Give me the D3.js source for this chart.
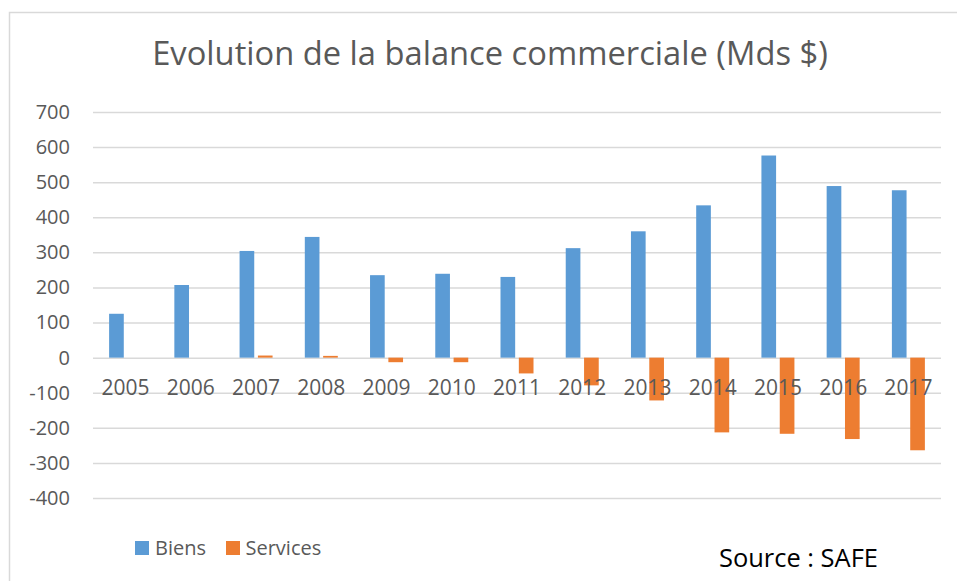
<!DOCTYPE html>
<html>
<head>
<meta charset="utf-8">
<script src="https://cdn.jsdelivr.net/npm/d3@7"></script>
<style>
  body { margin: 0; background: #fff; }
  text { font-family: "Open Sans", "Noto Sans", sans-serif; }
</style>
</head>
<body>
<script>
// Data
const years = ["2005", "2006", "2007", "2008", "2009", "2010", "2011", "2012", "2013", "2014", "2015", "2016", "2017"];
const biens = [125, 207, 304, 344, 235, 239, 230, 312, 360, 434, 576, 489, 477];
const services = [0, 0, 6, 5, -13, -13, -45, -79, -122, -213, -217, -232, -264];
const seriesNames = ["Biens", "Services"];
const yTicks = [-400, -300, -200, -100, 0, 100, 200, 300, 400, 500, 600, 700];

const width = 957;
const height = 581;
const plot = { left: 93, right: 941, top: 112, bottom: 498 };
const colors = { Biens: "#5b9bd5", Services: "#ed7d31" };
const textColor = "#595959";
const gridColor = "#d9d9d9";

const svg = d3.select("body")
  .append("svg")
  .attr("width", width)
  .attr("height", height);

// Chart frame (runs off the right and bottom edges)
svg.append("rect")
  .attr("x", 9.5)
  .attr("y", 12.5)
  .attr("width", 980)
  .attr("height", 600)
  .attr("fill", "#fff")
  .attr("stroke", gridColor)
  .attr("stroke-width", 1.5);

// shrink/grow font so text fits a measured width
function fitWidth(sel, target) {
  const w = sel.node().getComputedTextLength();
  const fs = parseFloat(sel.attr("font-size"));
  sel.attr("font-size", fs * target / w);
}

// Title
const title = svg.append("text")
  .attr("x", 490)
  .attr("y", 65)
  .attr("text-anchor", "middle")
  .attr("font-size", 30)
  .attr("fill", textColor)
  .text("Evolution de la balance commerciale (Mds $)");
fitWidth(title, 676);

// Scales
const x = d3.scaleBand()
  .domain(years)
  .range([plot.left, plot.right])
  .padding(0);

const x1 = d3.scaleBand()
  .domain(seriesNames)
  .range([x.bandwidth() / 2 - 16.5, x.bandwidth() / 2 + 16.5])
  .paddingInner(0.2);

const y = d3.scaleLinear()
  .domain([-400, 700])
  .range([plot.bottom, plot.top]);

// Y axis with gridlines
const yAxis = d3.axisLeft(y)
  .tickValues(yTicks)
  .tickSize(-(plot.right - plot.left))
  .tickPadding(23)
  .tickFormat(d => String(d)); // plain hyphen for negatives, like Excel

const gy = svg.append("g")
  .attr("transform", `translate(${plot.left},0)`)
  .call(yAxis);
gy.select(".domain").remove();
gy.selectAll(".tick line")
  .attr("stroke", gridColor)
  .attr("stroke-width", 1.5);
gy.selectAll(".tick text")
  .attr("font-size", 20)
  .attr("fill", textColor)
  .style("font-family", "'Open Sans', sans-serif");

// Bars
const rows = years.map((yr, i) => ({ year: yr, Biens: biens[i], Services: services[i] }));

const groups = svg.append("g")
  .selectAll("g")
  .data(rows)
  .enter()
  .append("g")
  .attr("transform", d => `translate(${x(d.year)},0)`);

groups.selectAll("rect")
  .data(d => seriesNames.map(k => ({ key: k, value: d[k] })))
  .enter()
  .append("rect")
  .attr("x", d => x1(d.key))
  .attr("y", d => y(Math.max(0, d.value)))
  .attr("width", x1.bandwidth())
  .attr("height", d => Math.abs(y(d.value) - y(0)))
  .attr("fill", d => colors[d.key]);

// X axis labels, sitting just under the zero line
const xAxis = d3.axisBottom(x).tickSize(0);
const gx = svg.append("g")
  .attr("transform", `translate(0,${y(0)})`)
  .call(xAxis);
gx.select(".domain").remove();
gx.selectAll(".tick text")
  .attr("y", 30)
  .attr("dy", "0.35em")
  .attr("font-size", 21)
  .attr("fill", textColor)
  .style("font-family", "'Open Sans', sans-serif");

// Legend
const legendItems = [
  { name: "Biens", sx: 135, tx: 155 },
  { name: "Services", sx: 226, tx: 245.5 }
];
const legend = svg.append("g");
legendItems.forEach(item => {
  legend.append("rect")
    .attr("x", item.sx)
    .attr("y", 541)
    .attr("width", 14)
    .attr("height", 14)
    .attr("fill", colors[item.name]);
  legend.append("text")
    .attr("x", item.tx)
    .attr("y", 555)
    .attr("font-size", 20)
    .attr("fill", textColor)
    .text(item.name);
});

// Source note
const source = svg.append("text")
  .attr("x", 719)
  .attr("y", 567)
  .attr("font-size", 25)
  .attr("fill", "#000")
  .text("Source : SAFE");
fitWidth(source, 159);
</script>
</body>
</html>
